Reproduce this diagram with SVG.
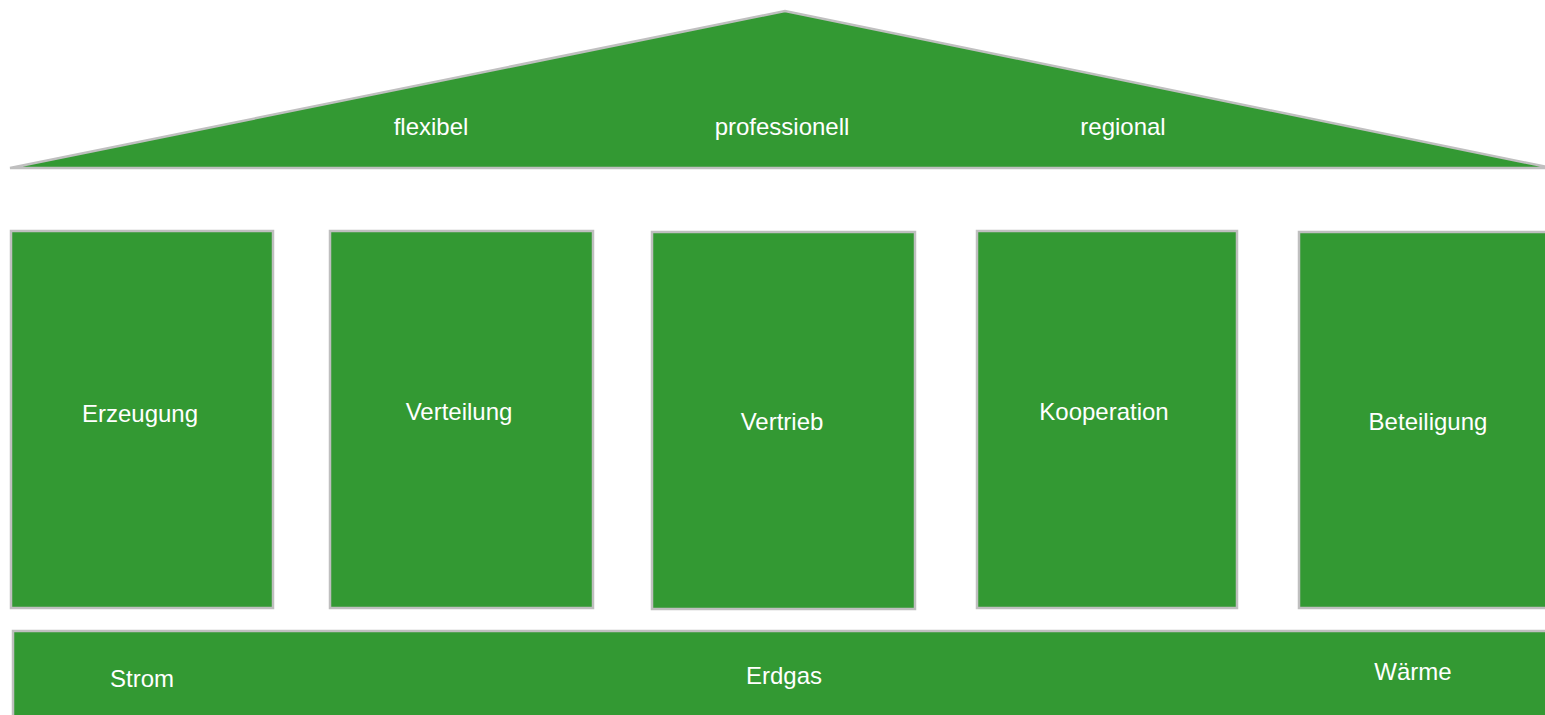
<svg xmlns="http://www.w3.org/2000/svg" width="1545" height="715" viewBox="0 0 1545 715">
<style>
.s{fill:#339933;stroke:#BFBFBF;stroke-width:2.5}
.t{font-family:"Liberation Sans",Arial,sans-serif;font-size:24px;fill:#ffffff;text-anchor:middle}
</style>
<rect width="1545" height="715" fill="#ffffff"/>
<g id="roof">
<polygon class="s" points="10,168 785,11 1552,168"/>
<text class="t" x="431" y="135">flexibel</text>
<text class="t" x="782" y="135">professionell</text>
<text class="t" x="1123" y="135">regional</text>
</g>
<g id="erzeugung">
<rect class="s" x="11" y="231" width="262" height="377"/>
<text class="t" x="140" y="422">Erzeugung</text>
</g>
<g id="verteilung">
<rect class="s" x="330" y="231" width="263" height="377"/>
<text class="t" x="459" y="420">Verteilung</text>
</g>
<g id="vertrieb">
<rect class="s" x="652" y="232" width="263" height="377"/>
<text class="t" x="782" y="430">Vertrieb</text>
</g>
<g id="kooperation">
<rect class="s" x="977" y="231" width="260" height="377"/>
<text class="t" x="1104" y="420">Kooperation</text>
</g>
<g id="beteiligung">
<rect class="s" x="1299" y="232" width="260" height="376"/>
<text class="t" x="1428" y="430">Beteiligung</text>
</g>
<g id="basis">
<rect class="s" x="13" y="631" width="1545" height="100"/>
<text class="t" x="142" y="687">Strom</text>
<text class="t" x="784" y="684">Erdgas</text>
<text class="t" x="1413" y="680">Wärme</text>
</g>
<g id="connectors"/>
</svg>
